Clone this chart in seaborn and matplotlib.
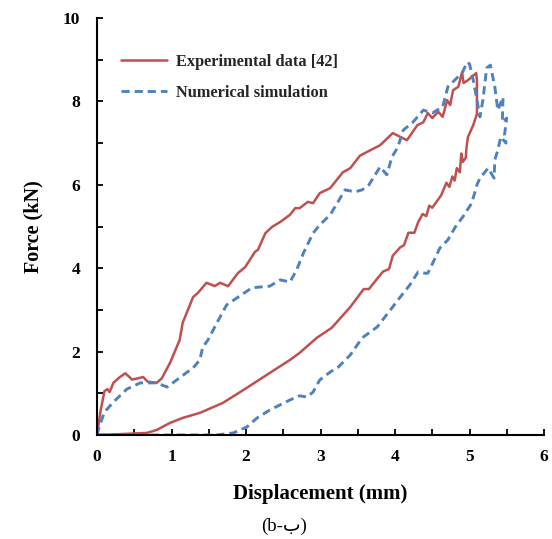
import numpy as np
import pandas as pd
import matplotlib
matplotlib.use("Agg")
import matplotlib.pyplot as plt
from matplotlib.ticker import MultipleLocator
import seaborn as sns

# Experimental force-displacement loop (loading then unloading)
exp_x = [0.0, 0.05, 0.1, 0.14, 0.17, 0.22, 0.3, 0.38, 0.47, 0.55, 0.62, 0.68, 0.8, 0.87, 0.98,
         1.11, 1.15, 1.29, 1.35, 1.47, 1.58, 1.65, 1.76, 1.89, 1.99, 2.12, 2.16, 2.26, 2.35, 2.46,
         2.59, 2.66, 2.72, 2.83, 2.9, 2.99, 3.13, 3.3, 3.4, 3.53, 3.8, 3.97, 4.07, 4.16, 4.3, 4.38,
         4.44, 4.5, 4.58, 4.64, 4.7, 4.74, 4.78, 4.85, 4.9, 4.92, 4.98, 5.09,
         5.1, 5.1, 5.05, 4.98, 4.96, 4.95, 4.91, 4.89, 4.87, 4.83, 4.8, 4.77, 4.73, 4.69, 4.62,
         4.56, 4.5, 4.46, 4.42, 4.37, 4.31, 4.26, 4.18, 4.12, 4.07, 3.97, 3.92, 3.84, 3.77, 3.65,
         3.58, 3.4, 3.15, 2.95, 2.72, 2.59, 2.32, 2.01, 1.69, 1.38, 1.15, 0.98, 0.8, 0.67, 0.3, 0.0]
exp_y = [0.0, 0.6, 1.05, 1.1, 1.03, 1.25, 1.38, 1.48, 1.33, 1.36, 1.39, 1.28, 1.25, 1.36, 1.73,
         2.28, 2.69, 3.31, 3.4, 3.65, 3.57, 3.65, 3.57, 3.88, 4.03, 4.39, 4.44, 4.84, 4.99, 5.11,
         5.28, 5.44, 5.44, 5.59, 5.56, 5.8, 5.92, 6.3, 6.4, 6.7, 6.95, 7.24, 7.15, 7.07, 7.43, 7.5,
         7.72, 7.6, 7.75, 7.63, 8.03, 7.91, 8.27, 8.35, 8.7, 8.44, 8.51, 8.68,
         8.5, 7.7, 7.43, 7.15, 6.9, 6.65, 6.55, 6.75, 6.3, 6.4, 6.1, 6.2, 5.95, 6.05, 5.75,
         5.6, 5.45, 5.5, 5.25, 5.3, 5.1, 4.85, 4.85, 4.55, 4.5, 4.3, 3.98, 3.92, 3.77, 3.5,
         3.5, 3.07, 2.57, 2.33, 1.97, 1.8, 1.49, 1.13, 0.77, 0.53, 0.41, 0.29, 0.12, 0.05, 0.02, 0.0]

# Numerical simulation loop
sim_x = [0.0, 0.03, 0.1, 0.22, 0.4, 0.58, 0.8, 0.94, 1.07, 1.25, 1.29, 1.38, 1.42, 1.49, 1.61,
         1.74, 1.88, 2.08, 2.32, 2.46, 2.59, 2.68, 2.77, 2.9, 2.99, 3.13, 3.33, 3.46, 3.56, 3.65,
         3.8, 3.89, 3.96, 4.04, 4.11, 4.24, 4.38, 4.5, 4.64, 4.71, 4.83, 4.9, 4.97, 5.0, 5.05,
         5.1, 5.14, 5.18, 5.23, 5.28, 5.34, 5.38, 5.45, 5.44, 5.5, 5.47, 5.49,
         5.42, 5.38, 5.34, 5.33, 5.25, 5.14, 5.1, 5.03, 4.91, 4.81, 4.71, 4.6, 4.56, 4.44, 4.4,
         4.31, 4.2, 4.04, 3.96, 3.76, 3.56, 3.4, 3.24, 3.13, 2.99, 2.9, 2.82, 2.72, 2.59, 2.32,
         2.15, 2.01, 1.83, 1.6, 0.0]
sim_y = [0.0, 0.2, 0.55, 0.79, 1.1, 1.25, 1.25, 1.15, 1.32, 1.56, 1.61, 1.8, 2.11, 2.28, 2.69,
         3.12, 3.29, 3.53, 3.57, 3.72, 3.67, 3.96, 4.36, 4.84, 5.04, 5.28, 5.88, 5.83, 5.88, 6.0,
         6.43, 6.24, 6.67, 6.91, 7.31, 7.5, 7.79, 7.72, 7.87, 8.35, 8.56, 8.68, 8.94, 8.9, 8.51,
         8.03, 7.63, 8.03, 8.8, 8.87, 8.35, 7.79, 8.1, 7.5, 7.6, 7.2, 7.0,
         7.15, 6.83, 6.6, 6.16, 6.4, 6.16, 6.0, 5.56, 5.23, 4.99, 4.68, 4.48, 4.32, 3.88, 3.88,
         3.91, 3.6, 3.24, 3.05, 2.59, 2.33, 1.92, 1.63, 1.51, 1.32, 1.03, 0.91, 0.94, 0.84, 0.6,
         0.41, 0.19, 0.05, 0.0, 0.0]

labels = ["Experimental data [42]", "Numerical simulation"]
red = "#C0504D"
blue = "#4F81BD"

sns.set_theme(style="white")
plt.rcParams["font.family"] = ["Liberation Serif", "DejaVu Sans"]
plt.rcParams["font.weight"] = "bold"

fig = plt.figure(figsize=(5.52, 5.39), dpi=100)
ax = fig.add_axes([97 / 552, 1 - 435 / 539, 447 / 552, 417 / 539])

df_exp = pd.DataFrame({"x": exp_x, "y": exp_y})
df_sim = pd.DataFrame({"x": sim_x, "y": sim_y})

sns.lineplot(data=df_exp, x="x", y="y", sort=False, estimator=None, ax=ax,
             color=red, linewidth=1.8, label=labels[0])
sns.lineplot(data=df_sim, x="x", y="y", sort=False, estimator=None, ax=ax,
             color=blue, linewidth=2.1, linestyle=(0, (2.8, 1.7)), label=labels[1])

ax.set_xlim(0, 6)
ax.set_ylim(0, 10)
ax.xaxis.set_major_locator(MultipleLocator(1))
ax.xaxis.set_minor_locator(MultipleLocator(0.5))
ax.yaxis.set_major_locator(MultipleLocator(2))
ax.yaxis.set_minor_locator(MultipleLocator(1))

for side in ["top", "right"]:
    ax.spines[side].set_visible(False)
for side in ["left", "bottom"]:
    ax.spines[side].set_color("black")
    ax.spines[side].set_linewidth(1.5)

ax.tick_params(axis="both", which="both", direction="in", length=4, width=1.3,
               color="black", left=True, bottom=True)
ax.tick_params(axis="both", which="major", labelsize=12.5, pad=10, labelcolor="black")
ax.tick_params(axis="y", which="major", pad=12)
for t in ax.get_xticklabels() + ax.get_yticklabels():
    t.set_fontweight("bold")

ax.set_xlabel("Displacement (mm)", fontsize=15, fontweight="bold", labelpad=14, color="black")
ax.set_ylabel("Force (kN)", fontsize=14.5, fontweight="bold", labelpad=14, color="black")

leg = ax.legend(loc="upper left", bbox_to_anchor=(0.02, 0.95), frameon=False,
                handlelength=2.8, handletextpad=0.55, labelspacing=0.95,
                prop={"family": "Liberation Serif", "weight": "bold", "size": 11.8})

fig.text(284 / 552, 1 - 526 / 539, "(b-ب)", ha="center", va="center", fontsize=13.5,
         fontweight="normal", family=["Liberation Serif", "DejaVu Sans"], color="black")

fig.savefig("out.png", dpi=100)
